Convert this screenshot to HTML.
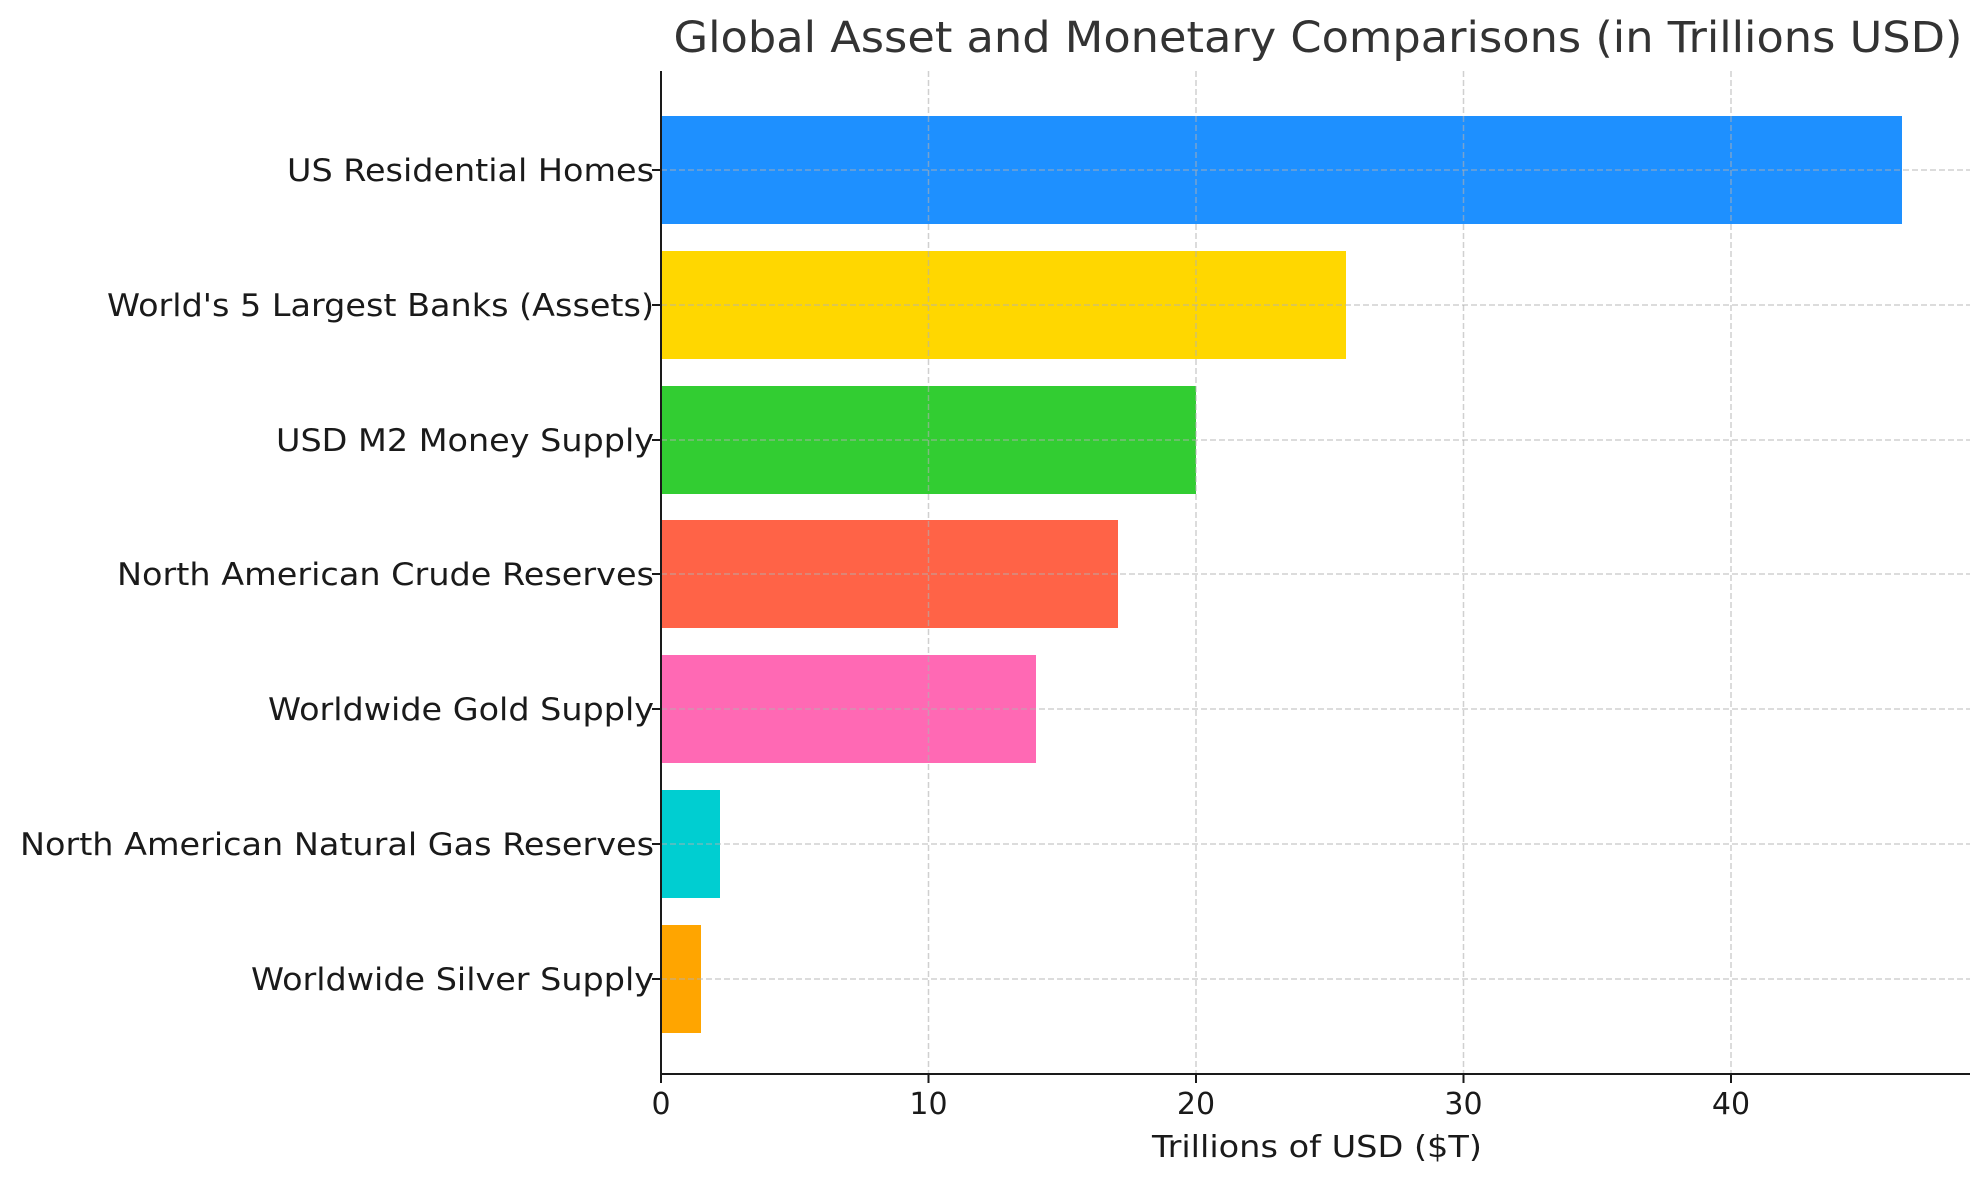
<!DOCTYPE html>
<html><head><meta charset="utf-8"><style>
html,body{margin:0;padding:0;background:#fff}
svg{display:block}
text{font-family:"DejaVu Sans","Liberation Sans",sans-serif;fill:#1a1a1a}
</style></head><body>
<svg width="1979" height="1180" viewBox="0 0 1979 1180">
<rect width="1979" height="1180" fill="#fff"/>
<g>
<rect x="661" y="116" width="1241" height="108" fill="#1E90FF"/>
<rect x="661" y="251" width="685" height="108" fill="#FFD700"/>
<rect x="661" y="386" width="535" height="108" fill="#32CD32"/>
<rect x="661" y="520" width="457" height="108" fill="#FF6347"/>
<rect x="661" y="655" width="375" height="108" fill="#FF69B4"/>
<rect x="661" y="790" width="59" height="108" fill="#00CED1"/>
<rect x="661" y="925" width="40" height="108" fill="#FFA500"/>
</g>
<g stroke="#b0b0b0" stroke-opacity="0.6" stroke-width="1.5" stroke-dasharray="6,3">
<line x1="928.5" y1="71" x2="928.5" y2="1074"/>
<line x1="1196" y1="71" x2="1196" y2="1074"/>
<line x1="1463.5" y1="71" x2="1463.5" y2="1074"/>
<line x1="1731" y1="71" x2="1731" y2="1074"/>
<line x1="661" y1="170" x2="1970" y2="170"/>
<line x1="661" y1="305" x2="1970" y2="305"/>
<line x1="661" y1="440" x2="1970" y2="440"/>
<line x1="661" y1="574" x2="1970" y2="574"/>
<line x1="661" y1="709" x2="1970" y2="709"/>
<line x1="661" y1="844" x2="1970" y2="844"/>
<line x1="661" y1="979" x2="1970" y2="979"/>
</g>
<g stroke="#1a1a1a" stroke-width="2">
<line x1="661" y1="71" x2="661" y2="1075"/>
<line x1="660" y1="1074" x2="1970" y2="1074"/>
<line x1="661" y1="1074" x2="661" y2="1083"/>
<line x1="928.5" y1="1074" x2="928.5" y2="1083"/>
<line x1="1196" y1="1074" x2="1196" y2="1083"/>
<line x1="1463.5" y1="1074" x2="1463.5" y2="1083"/>
<line x1="1731" y1="1074" x2="1731" y2="1083"/>
<line x1="652" y1="170" x2="661" y2="170"/>
<line x1="652" y1="305" x2="661" y2="305"/>
<line x1="652" y1="440" x2="661" y2="440"/>
<line x1="652" y1="574" x2="661" y2="574"/>
<line x1="652" y1="709" x2="661" y2="709"/>
<line x1="652" y1="844" x2="661" y2="844"/>
<line x1="652" y1="979" x2="661" y2="979"/>
</g>
<g font-size="31" text-anchor="end" lengthAdjust="spacingAndGlyphs">
<text x="654" y="181" textLength="367" lengthAdjust="spacingAndGlyphs">US Residential Homes</text>
<text x="654" y="316" textLength="547" lengthAdjust="spacingAndGlyphs">World's 5 Largest Banks (Assets)</text>
<text x="654" y="451" textLength="378" lengthAdjust="spacingAndGlyphs">USD M2 Money Supply</text>
<text x="654" y="585" textLength="537" lengthAdjust="spacingAndGlyphs">North American Crude Reserves</text>
<text x="654" y="720" textLength="386" lengthAdjust="spacingAndGlyphs">Worldwide Gold Supply</text>
<text x="654" y="855" textLength="634" lengthAdjust="spacingAndGlyphs">North American Natural Gas Reserves</text>
<text x="654" y="990" textLength="403" lengthAdjust="spacingAndGlyphs">Worldwide Silver Supply</text>
</g>
<g font-size="30" text-anchor="middle">
<text x="661" y="1114">0</text>
<text x="928.5" y="1114">10</text>
<text x="1196" y="1114">20</text>
<text x="1463.5" y="1114">30</text>
<text x="1731" y="1114">40</text>
<text x="1317" y="1157" textLength="330" lengthAdjust="spacingAndGlyphs">Trillions of USD ($T)</text>
</g>
<text x="1318" y="52" font-size="43" text-anchor="middle" style="fill:#333" textLength="1289" lengthAdjust="spacingAndGlyphs">Global Asset and Monetary Comparisons (in Trillions USD)</text>
</svg>
</body></html>
